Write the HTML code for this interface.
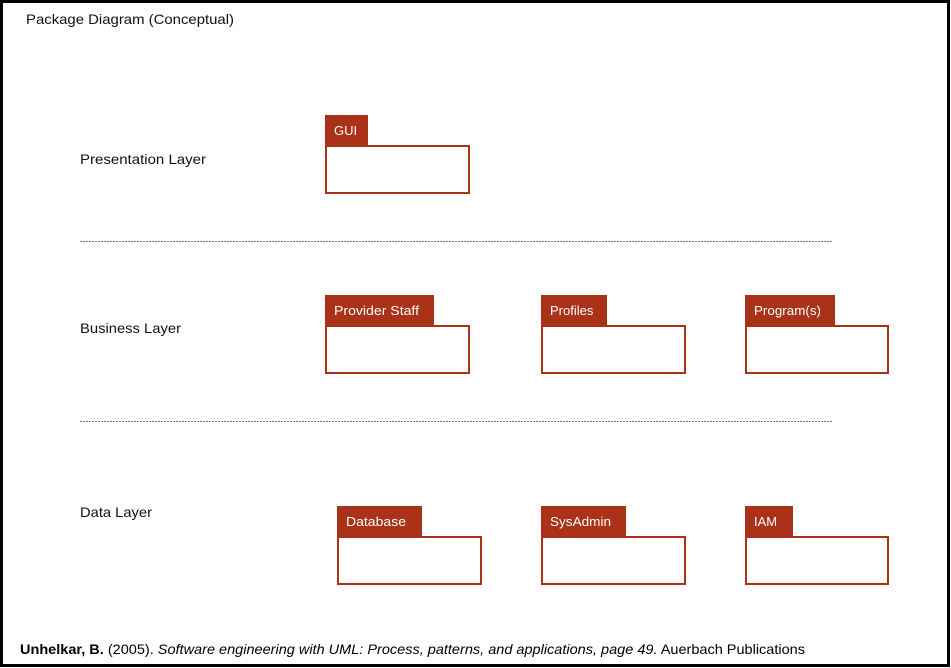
<!DOCTYPE html>
<html><head><meta charset="utf-8"><style>
html,body{margin:0;padding:0;background:#fff;}
svg{display:block;}
</style></head><body>
<svg width="951" height="668" viewBox="0 0 951 668" xmlns="http://www.w3.org/2000/svg" font-family="Liberation Sans, sans-serif">
<rect x="1.5" y="1.5" width="947" height="664" fill="#fff" stroke="#000" stroke-width="3"/>
<text x="26" y="24" font-size="14" fill="#111" textLength="208" lengthAdjust="spacingAndGlyphs">Package Diagram (Conceptual)</text>
<g font-size="14" fill="#111">
<text x="80" y="164" textLength="126" lengthAdjust="spacingAndGlyphs">Presentation Layer</text>
<text x="80" y="333" textLength="101" lengthAdjust="spacingAndGlyphs">Business Layer</text>
<text x="80" y="517" textLength="72" lengthAdjust="spacingAndGlyphs">Data Layer</text>
</g>
<g stroke="#777" stroke-width="1" stroke-dasharray="2,1">
<line x1="80" y1="241.5" x2="833" y2="241.5"/>
<line x1="80" y1="421.5" x2="833" y2="421.5"/>
</g>
<g fill="#a93218">
<rect x="325" y="115" width="43" height="31"/>
<rect x="325" y="295" width="109" height="31"/>
<rect x="541" y="295" width="66" height="31"/>
<rect x="745" y="295" width="90" height="31"/>
<rect x="337" y="506" width="85" height="31"/>
<rect x="541" y="506" width="85" height="31"/>
<rect x="745" y="506" width="48" height="31"/>
</g>
<g fill="#fff" stroke="#a93218" stroke-width="2">
<rect x="326" y="146" width="143" height="47"/>
<rect x="326" y="326" width="143" height="47"/>
<rect x="542" y="326" width="143" height="47"/>
<rect x="746" y="326" width="142" height="47"/>
<rect x="338" y="537" width="143" height="47"/>
<rect x="542" y="537" width="143" height="47"/>
<rect x="746" y="537" width="142" height="47"/>
</g>
<g font-size="13" fill="#fff">
<text x="334" y="135">GUI</text>
<text x="334" y="315" textLength="85" lengthAdjust="spacingAndGlyphs">Provider Staff</text>
<text x="550" y="315">Profiles</text>
<text x="754" y="315" textLength="67" lengthAdjust="spacingAndGlyphs">Program(s)</text>
<text x="346" y="526" textLength="60" lengthAdjust="spacingAndGlyphs">Database</text>
<text x="550" y="526" textLength="61" lengthAdjust="spacingAndGlyphs">SysAdmin</text>
<text x="754" y="526">IAM</text>
</g>
<text x="20" y="654" font-size="14" fill="#000" textLength="785" lengthAdjust="spacingAndGlyphs"><tspan font-weight="bold">Unhelkar, B.</tspan> (2005). <tspan font-style="italic">Software engineering with UML: Process, patterns, and applications, page 49.</tspan> Auerbach Publications</text>
</svg>
</body></html>
